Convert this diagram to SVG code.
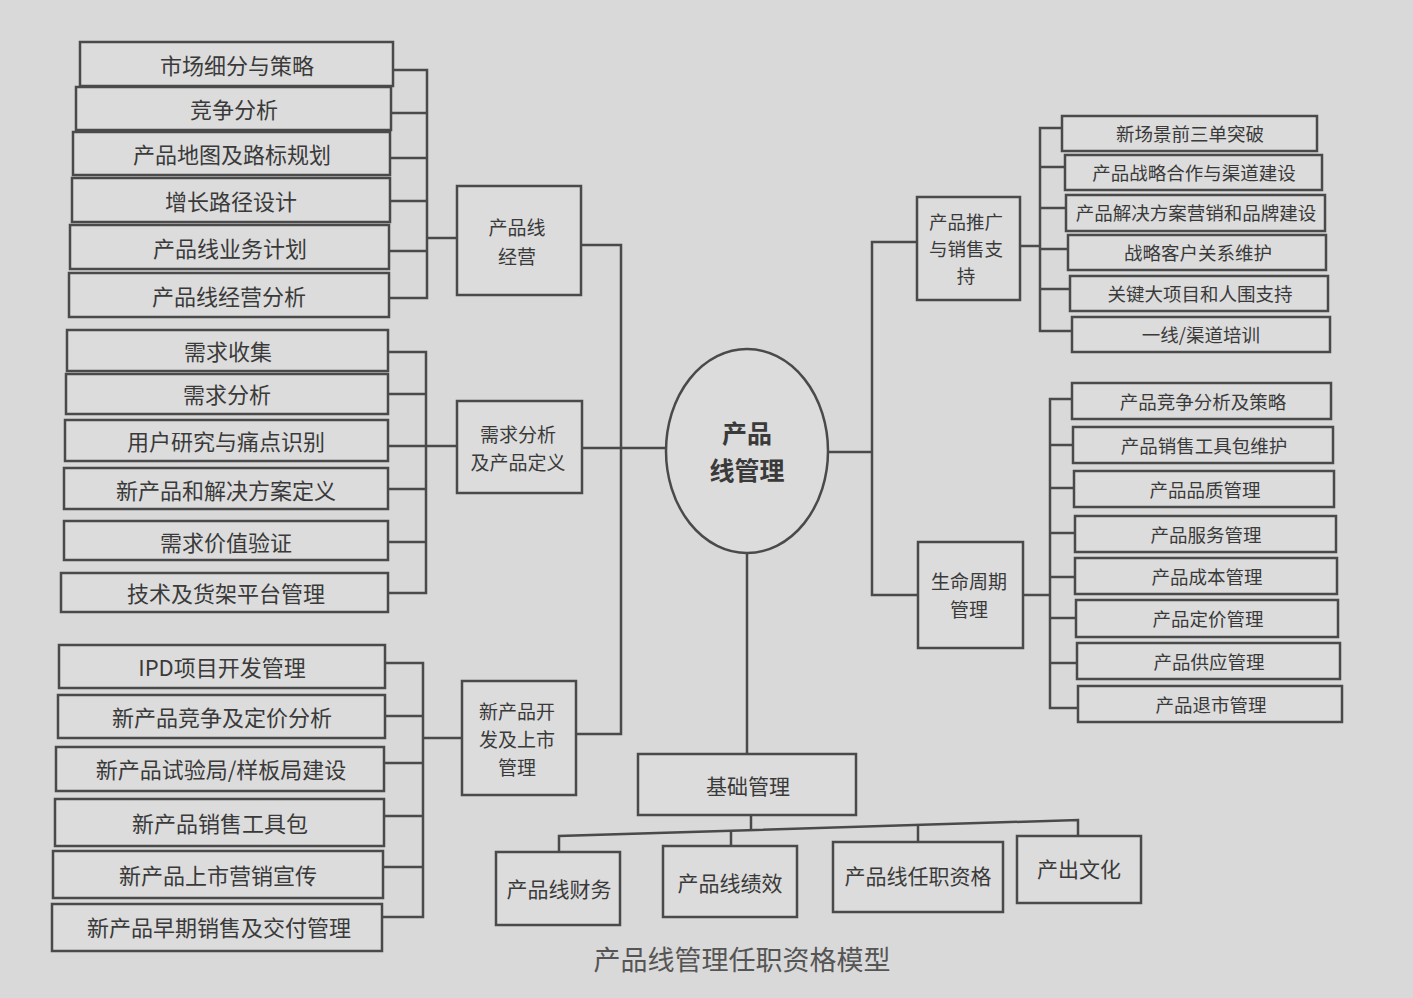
<svg xmlns="http://www.w3.org/2000/svg" width="1413" height="998" viewBox="0 0 1413 998">
<style>
.bg{fill:#d9d9d9}
.box{fill:#dcdcdc;stroke:#4a4a4a;stroke-width:2.5}
.ln{fill:none;stroke:#4a4a4a;stroke-width:2.5}
text{font-family:"Noto Sans CJK SC","Noto Sans",sans-serif;fill:#3a3a3a;text-anchor:middle;dominant-baseline:central}
.l{font-size:22px}
.m{font-size:21px}
.m2{font-size:19px}
.r{font-size:18.5px}
.c{font-size:25px;font-weight:bold}
.cap{font-size:27px;fill:#555}
</style>
<rect class="bg" x="0" y="0" width="1413" height="998"/>

<g id="connectors">
<polyline class="ln" points="393,70 427,70 427,298 389,298"/>
<line class="ln" x1="391" y1="113" x2="427" y2="113"/>
<line class="ln" x1="390" y1="158" x2="427" y2="158"/>
<line class="ln" x1="390" y1="201" x2="427" y2="201"/>
<line class="ln" x1="389" y1="251" x2="427" y2="251"/>
<line class="ln" x1="427" y1="238" x2="457" y2="238"/>
<polyline class="ln" points="388,352 426,352 426,593 388,593"/>
<line class="ln" x1="388" y1="394" x2="426" y2="394"/>
<line class="ln" x1="388" y1="446" x2="426" y2="446"/>
<line class="ln" x1="388" y1="489" x2="426" y2="489"/>
<line class="ln" x1="388" y1="542" x2="426" y2="542"/>
<line class="ln" x1="426" y1="446" x2="457" y2="446"/>
<polyline class="ln" points="385,663 423,663 423,917 382,917"/>
<line class="ln" x1="385" y1="716" x2="423" y2="716"/>
<line class="ln" x1="384" y1="763" x2="423" y2="763"/>
<line class="ln" x1="384" y1="816" x2="423" y2="816"/>
<line class="ln" x1="383" y1="867" x2="423" y2="867"/>
<line class="ln" x1="423" y1="738" x2="462" y2="738"/>
<polyline class="ln" points="581,245 621,245 621,734 576,734"/>
<line class="ln" x1="582" y1="448" x2="666" y2="448"/>
<line class="ln" x1="827" y1="452" x2="872" y2="452"/>
<polyline class="ln" points="917,242 872,242 872,595 918,595"/>
<line class="ln" x1="1020" y1="246" x2="1040" y2="246"/>
<polyline class="ln" points="1062,128 1040,128 1040,331 1072,331"/>
<line class="ln" x1="1040" y1="167" x2="1065" y2="167"/>
<line class="ln" x1="1040" y1="208" x2="1066" y2="208"/>
<line class="ln" x1="1040" y1="249" x2="1068" y2="249"/>
<line class="ln" x1="1040" y1="289" x2="1070" y2="289"/>
<line class="ln" x1="1023" y1="595" x2="1050" y2="595"/>
<polyline class="ln" points="1072,399 1050,399 1050,708 1078,708"/>
<line class="ln" x1="1050" y1="445" x2="1073" y2="445"/>
<line class="ln" x1="1050" y1="488" x2="1074" y2="488"/>
<line class="ln" x1="1050" y1="533" x2="1075" y2="533"/>
<line class="ln" x1="1050" y1="577" x2="1075" y2="577"/>
<line class="ln" x1="1050" y1="618" x2="1076" y2="618"/>
<line class="ln" x1="1050" y1="663" x2="1077" y2="663"/>
<line class="ln" x1="747" y1="553" x2="747" y2="754"/>
<line class="ln" x1="751" y1="815" x2="751" y2="830"/>
<polyline class="ln" points="559,852 559,836 1078,820 1078,836"/>
<line class="ln" x1="731" y1="831" x2="731" y2="846"/>
<line class="ln" x1="918" y1="825" x2="918" y2="842"/>
</g>

<g id="n1"><rect class="box" x="80" y="42" width="313" height="44"/><text class="l" x="237" y="64">市场细分与策略</text></g>
<g id="n2"><rect class="box" x="76" y="87" width="315" height="43"/><text class="l" x="234" y="108">竞争分析</text></g>
<g id="n3"><rect class="box" x="73" y="132" width="317" height="43"/><text class="l" x="232" y="153">产品地图及路标规划</text></g>
<g id="n4"><rect class="box" x="72" y="178" width="318" height="44"/><text class="l" x="231" y="200">增长路径设计</text></g>
<g id="n5"><rect class="box" x="70" y="225" width="319" height="44"/><text class="l" x="230" y="247">产品线业务计划</text></g>
<g id="n6"><rect class="box" x="69" y="273" width="320" height="44"/><text class="l" x="229" y="295">产品线经营分析</text></g>
<g id="n7"><rect class="box" x="67" y="330" width="321" height="41"/><text class="l" x="228" y="350">需求收集</text></g>
<g id="n8"><rect class="box" x="66" y="374" width="322" height="40"/><text class="l" x="227" y="393">需求分析</text></g>
<g id="n9"><rect class="box" x="65" y="420" width="323" height="41"/><text class="l" x="226" y="440">用户研究与痛点识别</text></g>
<g id="n10"><rect class="box" x="64" y="468" width="324" height="41"/><text class="l" x="226" y="489">新产品和解决方案定义</text></g>
<g id="n11"><rect class="box" x="64" y="521" width="324" height="39"/><text class="l" x="226" y="541">需求价值验证</text></g>
<g id="n12"><rect class="box" x="61" y="573" width="327" height="39"/><text class="l" x="226" y="592">技术及货架平台管理</text></g>
<g id="n13"><rect class="box" x="59" y="645" width="326" height="43"/><text class="l" x="222" y="666">IPD项目开发管理</text></g>
<g id="n14"><rect class="box" x="58" y="695" width="327" height="43"/><text class="l" x="222" y="716">新产品竞争及定价分析</text></g>
<g id="n15"><rect class="box" x="56" y="747" width="328" height="44"/><text class="l" x="221" y="768">新产品试验局/样板局建设</text></g>
<g id="n16"><rect class="box" x="55" y="799" width="329" height="47"/><text class="l" x="220" y="822">新产品销售工具包</text></g>
<g id="n17"><rect class="box" x="53" y="851" width="330" height="47"/><text class="l" x="218" y="874">新产品上市营销宣传</text></g>
<g id="n18"><rect class="box" x="52" y="904" width="330" height="47"/><text class="l" x="219" y="926">新产品早期销售及交付管理</text></g>

<g id="m1"><rect class="box" x="457" y="186" width="124" height="109"/><text class="m2" x="517" y="226">产品线</text><text class="m2" x="517" y="255">经营</text></g>
<g id="m2"><rect class="box" x="457" y="401" width="125" height="92"/><text class="m2" x="518" y="433">需求分析</text><text class="m2" x="518" y="461">及产品定义</text></g>
<g id="m3"><rect class="box" x="462" y="681" width="114" height="114"/><text class="m2" x="517" y="710">新产品开</text><text class="m2" x="517" y="738">发及上市</text><text class="m2" x="517" y="766">管理</text></g>

<g id="center"><ellipse class="box" cx="747" cy="451" rx="81" ry="102"/><text class="c" x="747" y="432">产品</text><text class="c" x="747" y="469">线管理</text></g>

<g id="m4"><rect class="box" x="917" y="197" width="103" height="103"/><text class="r" x="966" y="221">产品推广</text><text class="r" x="966" y="248">与销售支</text><text class="r" x="966" y="275">持</text></g>
<g id="m5"><rect class="box" x="918" y="542" width="105" height="106"/><text class="m2" x="969" y="580">生命周期</text><text class="m2" x="969" y="608">管理</text></g>

<g id="r1"><rect class="box" x="1062" y="116" width="255" height="35"/><text class="r" x="1190" y="133">新场景前三单突破</text></g>
<g id="r2"><rect class="box" x="1065" y="155" width="257" height="35"/><text class="r" x="1194" y="172">产品战略合作与渠道建设</text></g>
<g id="r3"><rect class="box" x="1066" y="195" width="259" height="36"/><text class="r" x="1196" y="212">产品解决方案营销和品牌建设</text></g>
<g id="r4"><rect class="box" x="1068" y="235" width="258" height="35"/><text class="r" x="1198" y="252">战略客户关系维护</text></g>
<g id="r5"><rect class="box" x="1070" y="276" width="258" height="35"/><text class="r" x="1200" y="293">关键大项目和人围支持</text></g>
<g id="r6"><rect class="box" x="1072" y="317" width="258" height="35"/><text class="r" x="1201" y="334">一线/渠道培训</text></g>

<g id="s1"><rect class="box" x="1072" y="383" width="259" height="36"/><text class="r" x="1203" y="401">产品竞争分析及策略</text></g>
<g id="s2"><rect class="box" x="1073" y="427" width="260" height="36"/><text class="r" x="1204" y="445">产品销售工具包维护</text></g>
<g id="s3"><rect class="box" x="1074" y="471" width="260" height="36"/><text class="r" x="1205" y="489">产品品质管理</text></g>
<g id="s4"><rect class="box" x="1075" y="516" width="261" height="36"/><text class="r" x="1206" y="534">产品服务管理</text></g>
<g id="s5"><rect class="box" x="1075" y="558" width="262" height="36"/><text class="r" x="1207" y="576">产品成本管理</text></g>
<g id="s6"><rect class="box" x="1076" y="600" width="262" height="37"/><text class="r" x="1208" y="618">产品定价管理</text></g>
<g id="s7"><rect class="box" x="1077" y="643" width="263" height="36"/><text class="r" x="1209" y="661">产品供应管理</text></g>
<g id="s8"><rect class="box" x="1078" y="686" width="264" height="36"/><text class="r" x="1211" y="704">产品退市管理</text></g>

<g id="b0"><rect class="box" x="638" y="754" width="218" height="61"/><text class="m" x="748" y="785">基础管理</text></g>
<g id="b1"><rect class="box" x="496" y="852" width="124" height="73"/><text class="m" x="559" y="888">产品线财务</text></g>
<g id="b2"><rect class="box" x="663" y="846" width="134" height="71"/><text class="m" x="730" y="882">产品线绩效</text></g>
<g id="b3"><rect class="box" x="833" y="842" width="170" height="70"/><text class="m" x="918" y="875">产品线任职资格</text></g>
<g id="b4"><rect class="box" x="1017" y="836" width="124" height="67"/><text class="m" x="1079" y="868">产出文化</text></g>

<text class="cap" x="742" y="958">产品线管理任职资格模型</text>
</svg>
